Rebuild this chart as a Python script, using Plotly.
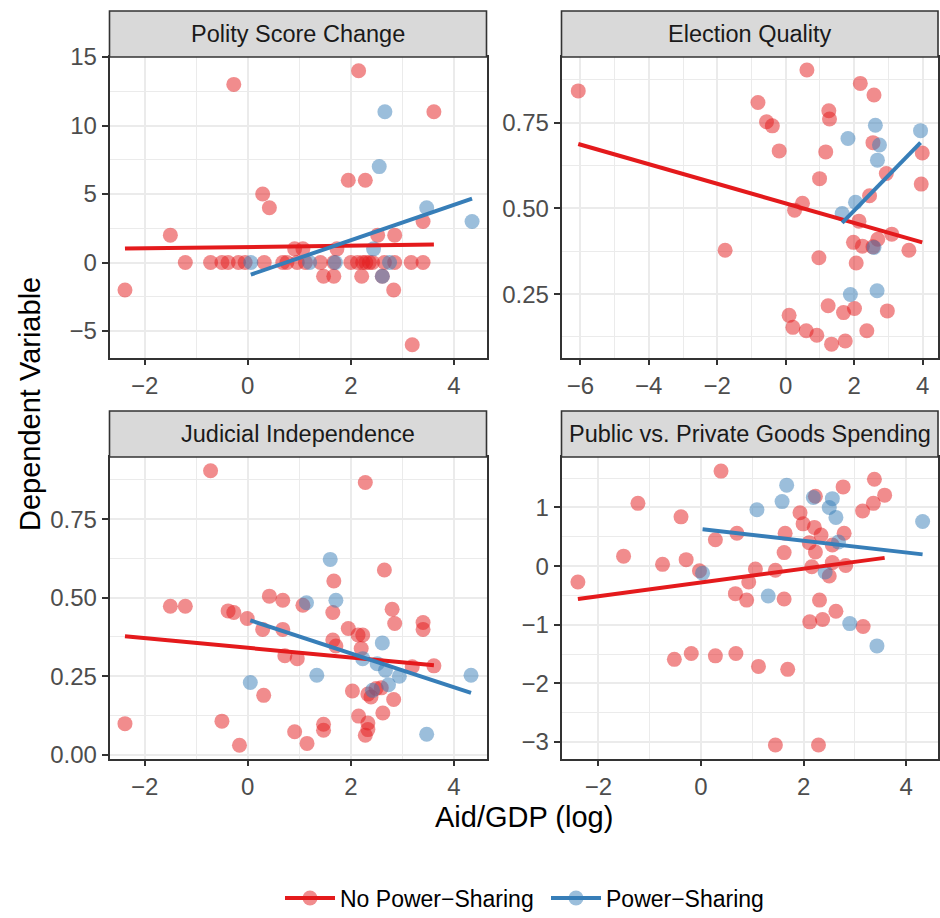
import plotly.graph_objects as go

# ---------------- data ----------------
panel_titles = ["Polity Score Change", "Election Quality",
                "Judicial Independence", "Public vs. Private Goods Spending"]
group_names = ["No Power\u2212Sharing", "Power\u2212Sharing"]

polity_no_x = [-2.38, -1.5, -1.21, -0.27, -0.72, -0.5, -0.38, -0.18, -0.05, 0.29, 0.42, 0.32, 0.68, 0.76,
               0.91, 1.07, 0.96, 1.12, 1.41, 1.47, 1.67, 1.73, 1.67, 1.95, 2.28, 2.15, 2.0, 2.13, 2.23,
               2.29, 2.36, 2.42, 2.21, 2.52, 2.61, 2.65, 2.85, 2.83, 2.85, 3.17, 3.4, 3.4, 3.61, 3.19]
polity_no_y = [-2, 2, 0, 13, 0, 0, 0, 0, 0, 5, 4, 0, 0, 0, 1, 1, 0, 0, 0, -1, -1, 1, 0, 6, 6, 14, 0, 0, 0,
               0, 0, 0, -1, 2, -1, 0, 2, -2, 0, 0, 0, 3, 11, -6]
polity_ps_x = [0.06, 1.2, 1.7, 2.44, 2.55, 2.66, 2.61, 2.75, 3.47, 4.35]
polity_ps_y = [0, 0, 0, 1, 7, 11, -1, 0, 4, 3]

election_no_x = [-6.06, 0.62, -0.81, -0.56, -0.39, -0.19, 0.26, 0.49, -1.77, 0.10,
                 0.21, 0.60, 0.91, 1.34, 0.99, 0.97, 1.17, 1.26, 1.28, 1.24,
                 1.69, 1.74, 2.01, 2.18, 2.58, 2.55, 2.14, 1.98, 2.06, 2.24,
                 2.45, 2.69, 2.94, 2.97, 2.37, 3.10, 3.60, 3.99, 3.96, 2.55]
election_no_y = [0.843, 0.904, 0.809, 0.753, 0.741, 0.668, 0.495, 0.515, 0.378, 0.188,
                 0.153, 0.143, 0.130, 0.104, 0.587, 0.356, 0.665, 0.785, 0.761, 0.216,
                 0.196, 0.113, 0.208, 0.865, 0.831, 0.692, 0.463, 0.401, 0.341, 0.390,
                 0.537, 0.410, 0.602, 0.201, 0.143, 0.425, 0.378, 0.662, 0.571, 0.388]
election_ps_x = [1.82, 2.62, 2.74, 2.68, 2.04, 1.65, 2.58, 1.89, 2.67, 3.94]
election_ps_y = [0.704, 0.743, 0.685, 0.641, 0.518, 0.485, 0.386, 0.249, 0.260, 0.727]

judicial_no_x = [-2.38, -1.50, -1.21, -0.72, -0.50, -0.38, -0.27, -0.16, -0.01, 0.29,
                 0.31, 0.42, 0.68, 0.68, 0.72, 0.96, 0.91, 1.07, 1.15, 1.47,
                 1.47, 1.65, 1.71, 1.67, 1.65, 1.95, 2.03, 2.14, 2.23, 2.20,
                 2.28, 2.15, 2.33, 2.33, 2.28, 2.33, 2.39, 2.49, 2.59, 2.65,
                 2.62, 2.80, 2.85, 2.83, 3.19, 3.40, 3.40, 3.61]
judicial_no_y = [0.099, 0.473, 0.473, 0.904, 0.107, 0.458, 0.453, 0.030, 0.434, 0.399,
                 0.189, 0.505, 0.492, 0.399, 0.315, 0.306, 0.073, 0.476, 0.036, 0.097,
                 0.078, 0.365, 0.346, 0.553, 0.453, 0.402, 0.203, 0.381, 0.381, 0.338,
                 0.867, 0.123, 0.101, 0.080, 0.062, 0.193, 0.184, 0.211, 0.213, 0.588,
                 0.133, 0.463, 0.418, 0.176, 0.280, 0.421, 0.399, 0.283]
judicial_ps_x = [0.05, 1.14, 1.34, 1.60, 1.71, 2.23, 2.51, 2.61, 2.67, 2.73, 2.42, 2.94, 3.47, 4.33]
judicial_ps_y = [0.230, 0.484, 0.253, 0.622, 0.492, 0.306, 0.290, 0.356, 0.269, 0.223, 0.205, 0.250, 0.065, 0.253]

public_no_x = [-2.40, -1.51, -1.23, -0.75, -0.52, -0.39, -0.29, -0.19, -0.03, 0.28,
               0.28, 0.39, 0.67, 0.68, 0.70, 0.89, 0.93, 1.06, 1.12, 1.45,
               1.45, 1.62, 1.62, 1.64, 1.69, 1.93, 1.99, 2.11, 2.12, 2.16,
               2.21, 2.23, 2.23, 2.29, 2.31, 2.34, 2.37, 2.50, 2.56, 2.56,
               2.63, 2.77, 2.79, 2.82, 3.15, 3.16, 3.36, 3.38, 3.58]
public_no_y = [-0.27, 0.17, 1.07, 0.03, -1.59, 0.84, 0.11, -1.49, -0.08, -1.53,
               0.45, 1.62, -0.47, -1.49, 0.56, -0.58, -0.27, -0.05, -1.71, -3.05,
               -0.07, -0.56, 0.23, 0.56, -1.76, 0.91, 0.72, 0.40, -0.95, -0.01,
               0.66, 1.19, 0.24, -3.05, -0.58, 0.53, -0.91, -0.17, 0.06, 0.36,
               -0.77, 1.35, 0.56, 0.01, 0.94, -1.03, 1.07, 1.48, 1.21]
public_ps_x = [0.03, 1.09, 1.31, 1.58, 1.67, 2.19, 2.42, 2.50, 2.56, 2.63, 2.68, 2.90, 3.43, 4.32]
public_ps_y = [-0.12, 0.96, -0.51, 1.10, 1.38, 1.17, -0.10, 1.00, 1.15, 0.83, 0.41, -0.98, -1.36, 0.76]

# fitted (lm) lines: endpoints
polity_fit_no_x, polity_fit_no_y = [-2.38, 3.61], [1.02, 1.31]
polity_fit_ps_x, polity_fit_ps_y = [0.06, 4.35], [-0.88, 4.67]
election_fit_no_x, election_fit_no_y = [-6.06, 3.99], [0.688, 0.401]
election_fit_ps_x, election_fit_ps_y = [1.65, 3.94], [0.458, 0.692]
judicial_fit_no_x, judicial_fit_no_y = [-2.38, 3.61], [0.377, 0.285]
judicial_fit_ps_x, judicial_fit_ps_y = [0.05, 4.33], [0.428, 0.197]
public_fit_no_x, public_fit_no_y = [-2.40, 3.58], [-0.56, 0.14]
public_fit_ps_x, public_fit_ps_y = [0.03, 4.32], [0.63, 0.20]

# ---------------- styling ----------------
RED = "#E41A1C"
BLUE = "#377EB8"
FONT = "Liberation Sans, Arial, Helvetica, sans-serif"
W, H = 940, 918


def px(x):  # window pixel -> paper x
    return x / W


def py(y):  # window pixel -> paper y
    return 1 - y / H


panels = [
    dict(no=(polity_no_x, polity_no_y), ps=(polity_ps_x, polity_ps_y),
         fno=(polity_fit_no_x, polity_fit_no_y), fps=(polity_fit_ps_x, polity_fit_ps_y),
         xr=[-2.68, 4.63], yr=[-6.93, 15.0], xd=2, yd=5, yfmt="d"),
    dict(no=(election_no_x, election_no_y), ps=(election_ps_x, election_ps_y),
         fno=(election_fit_no_x, election_fit_no_y), fps=(election_fit_ps_x, election_fit_ps_y),
         xr=[-6.55, 4.45], yr=[0.065, 0.942], xd=2, yd=0.25, yfmt=".2f"),
    dict(no=(judicial_no_x, judicial_no_y), ps=(judicial_ps_x, judicial_ps_y),
         fno=(judicial_fit_no_x, judicial_fit_no_y), fps=(judicial_fit_ps_x, judicial_fit_ps_y),
         xr=[-2.68, 4.63], yr=[-0.012, 0.948], xd=2, yd=0.25, yfmt=".2f"),
    dict(no=(public_no_x, public_no_y), ps=(public_ps_x, public_ps_y),
         fno=(public_fit_no_x, public_fit_no_y), fps=(public_fit_ps_x, public_fit_ps_y),
         xr=[-2.72, 4.62], yr=[-3.28, 1.86], xd=2, yd=1, yfmt="d"),
]

# panel boxes in window pixels (left, right) / (top, bottom)
col_px = [(109.5, 486.5), (561.5, 938.0)]
row_px = [(57.0, 357.5), (457.0, 758.5)]
STRIP_H = 46.0

fig = go.Figure()
layout = dict(width=W, height=H, margin=dict(l=0, r=0, t=0, b=0, autoexpand=False),
              paper_bgcolor="white", plot_bgcolor="white",
              font=dict(family=FONT), showlegend=True)
shapes, annotations = [], []

for i, p in enumerate(panels):
    r, c = divmod(i, 2)
    l, rr = col_px[c]
    t, b = row_px[r]
    xa = "xaxis" if i == 0 else f"xaxis{i+1}"
    ya = "yaxis" if i == 0 else f"yaxis{i+1}"
    xs = "x" if i == 0 else f"x{i+1}"
    ys = "y" if i == 0 else f"y{i+1}"
    common = dict(showgrid=True, gridcolor="#EBEBEB", gridwidth=1.6,
                  zeroline=False, showline=True, mirror=True, linecolor="#333333", linewidth=1.6,
                  ticks="outside", ticklen=6, tickwidth=1.6, tickcolor="#333333",
                  tickfont=dict(family=FONT, size=24, color="#4D4D4D"))
    layout[xa] = dict(common, domain=[px(l), px(rr)], range=p["xr"], anchor=ys,
                      tick0=0, dtick=p["xd"],
                      minor=dict(dtick=p["xd"] / 2, showgrid=True, gridcolor="#EBEBEB", gridwidth=0.8))
    layout[ya] = dict(common, domain=[py(b), py(t)], range=p["yr"], anchor=xs,
                      tick0=0, dtick=p["yd"], tickformat=p["yfmt"],
                      minor=dict(dtick=p["yd"] / 2, showgrid=True, gridcolor="#EBEBEB", gridwidth=0.8))
    # points
    fig.add_trace(go.Scatter(x=p["no"][0], y=p["no"][1], mode="markers", xaxis=xs, yaxis=ys,
                             marker=dict(color=RED, size=15, opacity=0.5, line=dict(width=0)),
                             showlegend=False, hoverinfo="skip"))
    fig.add_trace(go.Scatter(x=p["ps"][0], y=p["ps"][1], mode="markers", xaxis=xs, yaxis=ys,
                             marker=dict(color=BLUE, size=15, opacity=0.5, line=dict(width=0)),
                             showlegend=False, hoverinfo="skip"))
    # fitted lines
    fig.add_trace(go.Scatter(x=p["fno"][0], y=p["fno"][1], mode="lines", xaxis=xs, yaxis=ys,
                             line=dict(color=RED, width=4), showlegend=False, hoverinfo="skip"))
    fig.add_trace(go.Scatter(x=p["fps"][0], y=p["fps"][1], mode="lines", xaxis=xs, yaxis=ys,
                             line=dict(color=BLUE, width=4), showlegend=False, hoverinfo="skip"))
    # strip
    shapes.append(dict(type="rect", xref="paper", yref="paper",
                       x0=px(l), x1=px(rr), y0=py(t), y1=py(t - STRIP_H),
                       fillcolor="#D9D9D9", line=dict(color="#333333", width=1.6), layer="above"))
    annotations.append(dict(text=panel_titles[i], xref="paper", yref="paper",
                            x=px((l + rr) / 2), y=py(t - STRIP_H / 2),
                            showarrow=False, xanchor="center", yanchor="middle",
                            font=dict(family=FONT, size=23.5, color="#1A1A1A")))

# legend entries
for name, col in zip(group_names, [RED, BLUE]):
    fig.add_trace(go.Scatter(x=[None], y=[None], mode="lines+markers", name=name,
                             line=dict(color=col, width=4),
                             marker=dict(color=col, size=15, opacity=0.5)))

annotations.append(dict(text="Aid/GDP (log)", xref="paper", yref="paper", x=px(523.5), y=py(817),
                        showarrow=False, xanchor="center", yanchor="middle",
                        font=dict(family=FONT, size=29, color="black")))
annotations.append(dict(text="Dependent Variable", xref="paper", yref="paper", x=px(30), y=py(404),
                        showarrow=False, xanchor="center", yanchor="middle", textangle=-90,
                        font=dict(family=FONT, size=29, color="black")))

layout["shapes"] = shapes
layout["annotations"] = annotations
layout["legend"] = dict(orientation="h", x=px(280), xanchor="left", y=py(898), yanchor="middle",
                        font=dict(family=FONT, size=23, color="black"), itemwidth=50,
                        entrywidth=201, bgcolor="rgba(0,0,0,0)")
fig.update_layout(**layout)
fig.write_html("out.html", config={"displayModeBar": False},
               post_script="document.body.style.margin='0';"
                           "document.documentElement.style.overflow='hidden';")
